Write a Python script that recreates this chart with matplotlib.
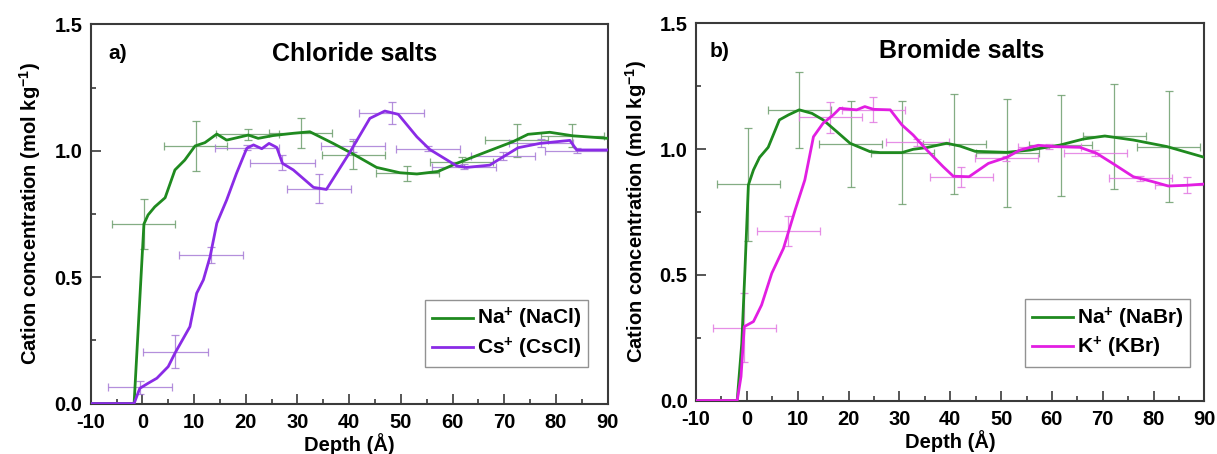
import matplotlib
matplotlib.use("Agg")
import matplotlib.pyplot as plt
from matplotlib.ticker import MultipleLocator, FuncFormatter

plt.rcParams['font.family'] = ['Liberation Sans', 'DejaVu Sans']
plt.rcParams['font.weight'] = 'bold'
plt.rcParams['mathtext.fontset'] = 'custom'
plt.rcParams['mathtext.rm'] = 'Liberation Sans:bold'
plt.rcParams['mathtext.bf'] = 'Liberation Sans:bold'
plt.rcParams['mathtext.it'] = 'Liberation Sans:bold'
plt.rcParams['mathtext.default'] = 'bf'

# ---------------- Panel a) Chloride salts ----------------
nacl_x = [-10, -1.6, 0.3, 1.1, 2.4, 4.4, 6.3, 8.2, 10.2, 12.1, 14.4, 16.3, 18.2, 20.5, 22.4,
          25.3, 29.2, 32.4, 36.9, 40.5, 45.3, 49.8, 53.1, 57.2, 60.8, 66.6, 71.7, 74.6, 78.8,
          83.3, 90]
nacl_y = [0.0, 0.0, 0.71, 0.746, 0.778, 0.814, 0.924, 0.963, 1.019, 1.032, 1.066, 1.042, 1.051,
          1.062, 1.049, 1.06, 1.069, 1.075, 1.029, 0.99, 0.934, 0.913, 0.908, 0.918, 0.95, 0.996,
          1.036, 1.065, 1.073, 1.059, 1.049]

cscl_x = [-10, -1.6, -0.5, 1.1, 2.8, 5.0, 6.3, 9.2, 10.5, 11.8, 13.1, 14.4, 16.3, 18.2, 20.2,
          21.5, 23.1, 24.5, 26.0, 27.1, 29.2, 33.1, 35.6, 40.2, 44.0, 46.9, 49.5, 53.1, 55.6,
          60.8, 62.7, 67.2, 69.8, 72.7, 76.9, 82.7, 84.0, 90]
cscl_y = [0.0, 0.0, 0.06, 0.08, 0.10, 0.146, 0.199, 0.304, 0.436, 0.489, 0.581, 0.713, 0.805,
          0.91, 1.01, 1.023, 1.008, 1.029, 1.013, 0.95, 0.924, 0.855, 0.847, 0.996, 1.128, 1.157,
          1.144, 1.055, 1.005, 0.94, 0.934, 0.943, 0.976, 1.012, 1.029, 1.041, 1.003, 1.003]

nacl_err_x = [0.3, 10.3, 20.4, 30.6, 40.8, 51.2, 61.8, 72.4, 83.2]
nacl_err_y = [0.71, 1.018, 1.065, 1.071, 0.983, 0.911, 0.957, 1.042, 1.059]
nacl_err_dx = [6.1, 6.1, 6.1, 6.1, 6.1, 6.1, 6.1, 6.1, 6.1]
nacl_err_dy = [0.10, 0.10, 0.022, 0.06, 0.056, 0.03, 0.02, 0.065, 0.045]

cscl_err_x = [-0.5, 6.4, 13.3, 20.3, 27.1, 34.2, 40.8, 48.2, 55.3, 62.2, 69.7, 77.1, 84.1]
cscl_err_y = [0.064, 0.205, 0.587, 1.012, 0.953, 0.85, 1.02, 1.148, 1.007, 0.936, 0.979, 1.03, 1.0]
cscl_err_dx = [6.2, 6.2, 6.2, 6.2, 6.2, 6.2, 6.2, 6.2, 6.2, 6.2, 6.2, 6.2, 6.2]
cscl_err_dy = [0.025, 0.065, 0.033, 0.01, 0.03, 0.058, 0.025, 0.043, 0.01, 0.01, 0.016, 0.015, 0.01]

# ---------------- Panel b) Bromide salts ----------------
nabr_x = [-10, -1.9, -1.0, -0.4, 0.3, 1.3, 2.5, 4.2, 6.4, 8.2, 10.3, 12.8, 15.0, 17.7, 20.3,
          24.2, 26.2, 30.5, 32.7, 35.4, 39.3, 41.9, 44.9, 51.1, 55.7, 61.6, 66.2, 70.4, 76.0,
          82.6, 90]
nabr_y = [0.0, 0.0, 0.227, 0.506, 0.857, 0.917, 0.967, 1.007, 1.116, 1.136, 1.156, 1.142, 1.116,
          1.069, 1.023, 0.99, 0.986, 0.986, 0.999, 1.006, 1.023, 1.012, 0.991, 0.987, 0.996,
          1.016, 1.04, 1.052, 1.036, 1.01, 0.967]

kbr_x = [-10, -1.9, -1.15, -0.5, 1.3, 2.9, 4.9, 7.2, 9.5, 11.4, 13.1, 15.0, 17.0, 18.3, 21.6,
         23.2, 24.9, 28.2, 30.5, 32.7, 35.4, 38.6, 40.6, 43.7, 47.5, 51.1, 53.7, 57.3, 60.3,
         65.5, 68.8, 72.1, 76.0, 79.9, 82.9, 86.5, 90]
kbr_y = [0.0, 0.0, 0.095, 0.294, 0.314, 0.38, 0.506, 0.605, 0.758, 0.877, 1.049, 1.103, 1.136,
         1.162, 1.156, 1.169, 1.158, 1.156, 1.096, 1.056, 0.996, 0.93, 0.892, 0.89, 0.943, 0.967,
         0.996, 1.015, 1.01, 1.007, 0.983, 0.941, 0.89, 0.87, 0.853, 0.856, 0.861]

nabr_err_x = [0.3, 10.3, 20.4, 30.6, 40.8, 51.2, 61.7, 72.3, 83.0]
nabr_err_y = [0.86, 1.155, 1.02, 0.986, 1.02, 0.986, 1.015, 1.05, 1.01]
nabr_err_dx = [6.2, 6.2, 6.2, 6.2, 6.2, 6.2, 6.2, 6.2, 6.2]
nabr_err_dy = [0.225, 0.15, 0.17, 0.205, 0.2, 0.215, 0.2, 0.21, 0.22]

kbr_err_x = [-0.5, 8.15, 16.4, 24.9, 33.5, 42.2, 51.0, 59.5, 68.5, 77.4, 86.5]
kbr_err_y = [0.29, 0.675, 1.126, 1.156, 1.027, 0.89, 0.963, 1.01, 0.986, 0.884, 0.857]
kbr_err_dx = [6.2, 6.2, 6.2, 6.2, 6.2, 6.2, 6.2, 6.2, 6.2, 6.2, 6.2]
kbr_err_dy = [0.138, 0.06, 0.063, 0.05, 0.015, 0.04, 0.01, 0.01, 0.012, 0.01, 0.033]

GREEN = '#1f8a1f'
GREEN_ERR = '#6f9f6f'
PURPLE = '#8a2be6'
PURPLE_ERR = '#a77bd6'
MAGENTA = '#e21ee2'
MAGENTA_ERR = '#e27ae2'
SPINE = '#3a3a3a'

fig = plt.figure(figsize=(12.17, 4.54), dpi=100)
ax1 = fig.add_axes([0.0745, 0.1112, 0.4248, 0.8352])
ax2 = fig.add_axes([0.5719, 0.1178, 0.4178, 0.8308])


def style(ax):
    ax.set_xlim(-10, 90)
    ax.set_ylim(0, 1.5)
    ax.xaxis.set_major_locator(MultipleLocator(10))
    ax.xaxis.set_minor_locator(MultipleLocator(5))
    ax.yaxis.set_major_locator(MultipleLocator(0.5))
    ax.yaxis.set_minor_locator(MultipleLocator(0.25))
    ax.tick_params(which='both', direction='in', top=False, right=False,
                   color=SPINE, width=1.2, labelsize=14.5)
    ax.tick_params(axis='x', which='major', pad=6.5)
    ax.tick_params(axis='y', which='major', pad=6)
    ax.tick_params(which='major', length=7)
    ax.tick_params(which='minor', length=3.5)
    ax.xaxis.set_major_formatter(FuncFormatter(lambda v, p: f"{int(round(v))}"))
    ax.yaxis.set_major_formatter(FuncFormatter(lambda v, p: f"{v:.1f}"))
    for lab in ax.get_xticklabels() + ax.get_yticklabels():
        lab.set_fontweight('bold')
    for s in ax.spines.values():
        s.set_color(SPINE)
        s.set_linewidth(1.5)
    ax.set_xlabel('Depth (Å)', fontsize=14.5, fontweight='bold', labelpad=1)
    ax.set_ylabel('Cation concentration (mol kg$^{-1}$)', fontsize=14.5, fontweight='bold',
                  labelpad=8)


def errs(ax, x, y, dx, dy, color):
    ax.errorbar(x, y, xerr=dx, yerr=dy, fmt='none', ecolor=color, elinewidth=0.9,
                capsize=3, capthick=0.9, alpha=0.85, zorder=2)


# Panel a
errs(ax1, nacl_err_x, nacl_err_y, nacl_err_dx, nacl_err_dy, GREEN_ERR)
errs(ax1, cscl_err_x, cscl_err_y, cscl_err_dx, cscl_err_dy, PURPLE_ERR)
ax1.plot(nacl_x, nacl_y, color=GREEN, lw=2.0, label='Na$^{+}$ (NaCl)', zorder=3)
ax1.plot(cscl_x, cscl_y, color=PURPLE, lw=2.0, label='Cs$^{+}$ (CsCl)', zorder=4)
style(ax1)
ax1.text(0.034, 0.923, 'a)', transform=ax1.transAxes, fontsize=15, fontweight='bold',
         ha='left', va='center')
ax1.text(0.511, 0.923, 'Chloride salts', transform=ax1.transAxes, fontsize=18,
         fontweight='bold', ha='center', va='center')
leg1 = ax1.legend(loc='lower right', bbox_to_anchor=(0.962, 0.096), fontsize=15,
                  frameon=True, fancybox=False, handlelength=2.0, handletextpad=0.2,
                  borderpad=0.3, labelspacing=0.2, borderaxespad=0)
leg1.get_frame().set_edgecolor('#777777')
leg1.get_frame().set_linewidth(1.0)

# Panel b
errs(ax2, nabr_err_x, nabr_err_y, nabr_err_dx, nabr_err_dy, GREEN_ERR)
errs(ax2, kbr_err_x, kbr_err_y, kbr_err_dx, kbr_err_dy, MAGENTA_ERR)
ax2.plot(nabr_x, nabr_y, color=GREEN, lw=2.0, label='Na$^{+}$ (NaBr)', zorder=3)
ax2.plot(kbr_x, kbr_y, color=MAGENTA, lw=2.0, label='K$^{+}$ (KBr)', zorder=4)
style(ax2)
ax2.text(0.0275, 0.926, 'b)', transform=ax2.transAxes, fontsize=15, fontweight='bold',
         ha='left', va='center')
ax2.text(0.522, 0.926, 'Bromide salts', transform=ax2.transAxes, fontsize=18,
         fontweight='bold', ha='center', va='center')
leg2 = ax2.legend(loc='lower right', bbox_to_anchor=(0.972, 0.09), fontsize=15,
                  frameon=True, fancybox=False, handlelength=2.0, handletextpad=0.2,
                  borderpad=0.3, labelspacing=0.2, borderaxespad=0)
leg2.get_frame().set_edgecolor('#777777')
leg2.get_frame().set_linewidth(1.0)

fig.savefig('out.png', dpi=100)
